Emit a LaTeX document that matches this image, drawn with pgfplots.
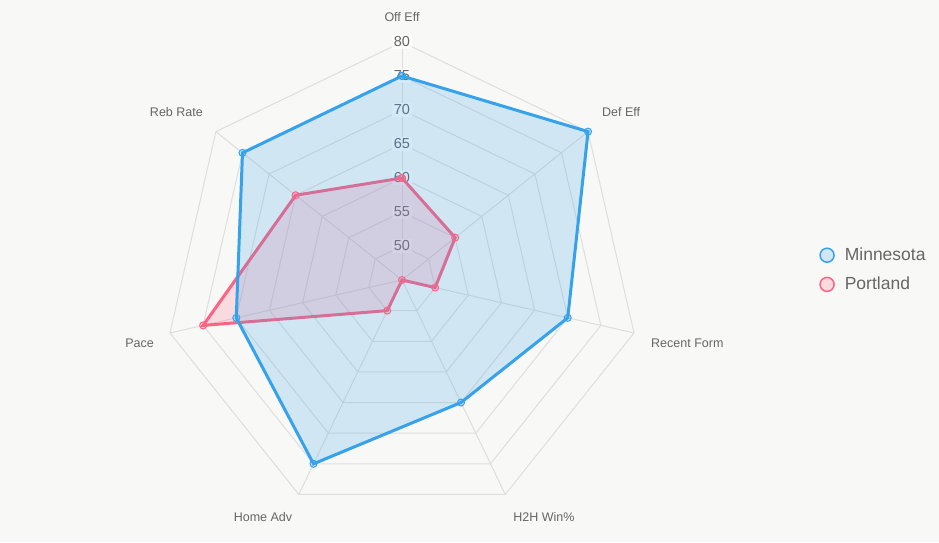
\documentclass[border=0pt]{standalone}
\usepackage{pgfplots}
\usepackage{pgfplotstable}
\pgfplotsset{compat=1.18}
\usepackage{fontspec}
\setmainfont{Liberation Sans}
\definecolor{bg}{HTML}{F8F8F6}
\definecolor{mn}{HTML}{36A2EB}
\definecolor{pt}{HTML}{FF6384}
\definecolor{gridc}{HTML}{DEDEDC}
\definecolor{txt}{HTML}{666666}

\pgfplotstableread{
idx mn pt
0 75 60
1 80 55
2 70 50
3 65 45
4 75 50
5 70 75
6 75 65
7 75 60
}\radardata

\begin{document}
\begin{tikzpicture}
\fill[bg] (-402pt,-264pt) rectangle (537pt,278pt);
\path[use as bounding box] (-402pt,-264pt) rectangle (537pt,278pt);
\begin{axis}[
  at={(0pt,-2pt)}, anchor=origin,
  x=6.8pt, y=6.8pt,
  xmin=-38, xmax=38, ymin=-37, ymax=39,
  hide axis, clip=false,
  legend style={at={(axis cs:60.9,1.5)}, anchor=west, draw=none, fill=none,
    font=\fontsize{17.5}{19}\selectfont, text=txt, row sep=11pt,
    /tikz/every odd column/.append style={column sep=8pt}},
  legend cell align=left,
]
% grid rings
\pgfplotsinvokeforeach{5,10,15,20,25,30,35}{
  \draw[gridc, line width=1pt]
    (axis cs:0,#1)
    -- (axis cs:{#1*sin(360/7)},{#1*cos(360/7)})
    -- (axis cs:{#1*sin(2*360/7)},{#1*cos(2*360/7)})
    -- (axis cs:{#1*sin(3*360/7)},{#1*cos(3*360/7)})
    -- (axis cs:{#1*sin(4*360/7)},{#1*cos(4*360/7)})
    -- (axis cs:{#1*sin(5*360/7)},{#1*cos(5*360/7)})
    -- (axis cs:{#1*sin(6*360/7)},{#1*cos(6*360/7)})
    -- cycle;
}
\pgfplotsinvokeforeach{0,1,2,3,4,5,6}{
  \draw[gridc, line width=1pt] (axis cs:0,0) -- (axis cs:{35*sin(#1*360/7)},{35*cos(#1*360/7)});
}
% tick labels
\pgfplotsinvokeforeach{50,55,60,65,70,75,80}{
  \node[fill=white, fill opacity=0.75, text opacity=1, text=txt, inner sep=2pt,
        font=\fontsize{14.5}{14.5}\selectfont] at (axis cs:0,{#1-45}) {#1};
}
% Portland (drawn first, below)
\addplot[pt, line width=3pt, fill=pt, fill opacity=0.2, draw opacity=1,
  mark=*, mark size=3.5pt, mark options={draw=pt, fill=pt, fill opacity=0.2, line width=1pt},
  forget plot]
  table[x expr={(\thisrow{pt}-45)*sin(\thisrow{idx}*360/7)},
        y expr={(\thisrow{pt}-45)*cos(\thisrow{idx}*360/7)}] {\radardata};
% Minnesota
\addplot[mn, line width=3pt, fill=mn, fill opacity=0.2, draw opacity=1,
  mark=*, mark size=3.5pt, mark options={draw=mn, fill=mn, fill opacity=0.2, line width=1pt},
  forget plot]
  table[x expr={(\thisrow{mn}-45)*sin(\thisrow{idx}*360/7)},
        y expr={(\thisrow{mn}-45)*cos(\thisrow{idx}*360/7)}] {\radardata};
\addlegendimage{legend image code/.code={\draw[draw=mn, fill=mn!20!bg, line width=1.5pt] (7pt,0pt) circle (7pt);}}
\addlegendentry{Minnesota}
\addlegendimage{legend image code/.code={\draw[draw=pt, fill=pt!20!bg, line width=1.5pt] (7pt,0pt) circle (7pt);}}
\addlegendentry{Portland}
\end{axis}
\begin{scope}[font=\fontsize{12.5}{14}\selectfont, text=txt]
\node at (0pt,261pt) {Off Eff};
\node[anchor=west, inner sep=0pt] at (602pt-402pt,166pt) {Def Eff};
\node[anchor=west, inner sep=0pt] at (651pt-402pt,-65pt) {Recent Form};
\node at (142pt,-239pt) {H2H Win\%};
\node at (-139pt,-239pt) {Home Adv};
\node[anchor=east, inner sep=0pt] at (154pt-402pt,-65pt) {Pace};
\node[anchor=east, inner sep=0pt] at (203pt-402pt,166pt) {Reb Rate};
\end{scope}
\end{tikzpicture}
\end{document}
